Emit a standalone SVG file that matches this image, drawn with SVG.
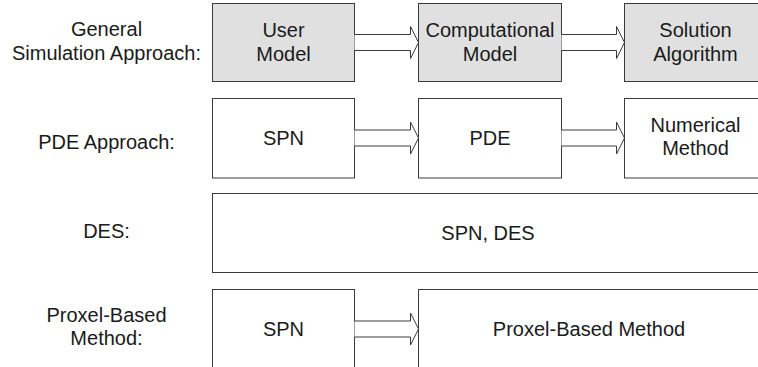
<svg xmlns="http://www.w3.org/2000/svg" width="758" height="367" viewBox="0 0 758 367">
<style>
text{font-family:"Liberation Sans",Arial,sans-serif;font-size:20px;fill:#1a1a1a;text-anchor:middle}
.box{fill:#ffffff;stroke:#3a3a3a;stroke-width:1}
.gray{fill:#e0e0e0}
.arrow{fill:#ffffff;stroke:#3a3a3a;stroke-width:1}
</style>
<rect width="758" height="367" fill="#ffffff"/>
<g id="labels">
<text x="106.5" y="36">General</text>
<text x="106.5" y="60">Simulation Approach:</text>
<text x="106.5" y="149">PDE Approach:</text>
<text x="106.5" y="238">DES:</text>
<text x="106.5" y="321.5">Proxel-Based</text>
<text x="106.5" y="345">Method:</text>
</g>
<g id="user-model"><rect class="box gray" x="212.5" y="3.5" width="142" height="78"/><text x="283.5" y="37">User</text><text x="283.5" y="61">Model</text></g>
<g id="computational-model"><rect class="box gray" x="418.5" y="3.5" width="143" height="78"/><text x="490" y="37">Computational</text><text x="490" y="61">Model</text></g>
<g id="solution-algorithm"><rect class="box gray" x="624.5" y="3.5" width="142" height="78"/><text x="695.5" y="37">Solution</text><text x="695.5" y="61">Algorithm</text></g>
<g id="pde-spn"><rect class="box" x="212.5" y="98.5" width="142" height="79.5"/><text x="283.5" y="145">SPN</text></g>
<g id="pde"><rect class="box" x="418.5" y="98.5" width="143" height="79.5"/><text x="490" y="145">PDE</text></g>
<g id="numerical-method"><rect class="box" x="624.5" y="98.5" width="142" height="79.5"/><text x="695.5" y="132">Numerical</text><text x="695.5" y="155">Method</text></g>
<g id="des"><rect class="box" x="212.5" y="193.5" width="552" height="79"/><text x="488" y="240">SPN, DES</text></g>
<g id="proxel-spn"><rect class="box" x="212.5" y="289.5" width="142" height="90"/><text x="283.5" y="335.5">SPN</text></g>
<g id="proxel-method"><rect class="box" x="418.5" y="289.5" width="342" height="90"/><text x="589" y="335.5">Proxel-Based Method</text></g>
<g id="connectors">
<path class="arrow" d="M354.5,34.5 H410.5 V26.5 L418.5,42.5 L410.5,58.5 V50.5 H354.5"/>
<path class="arrow" d="M561.5,34.5 H616.5 V26.5 L624.5,42.5 L616.5,58.5 V50.5 H561.5"/>
<path class="arrow" d="M354.5,130 H410.5 V122 L418.5,138 L410.5,154 V146 H354.5"/>
<path class="arrow" d="M561.5,130 H616.5 V122 L624.5,138 L616.5,154 V146 H561.5"/>
<path class="arrow" d="M354.5,321 H410.5 V313 L418.5,329 L410.5,345 V337 H354.5"/>
</g>
</svg>
